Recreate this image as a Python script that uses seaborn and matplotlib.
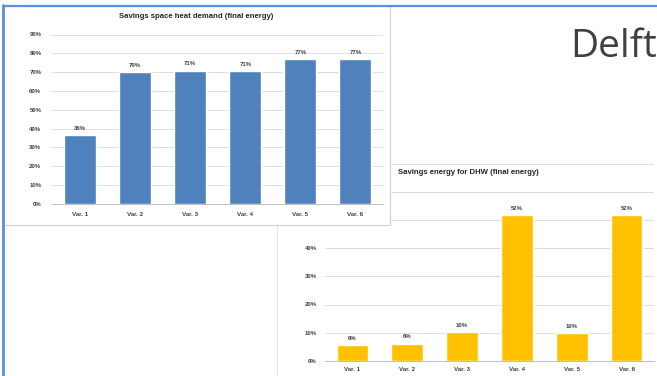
import matplotlib
matplotlib.use('Agg')
import matplotlib.pyplot as plt
import seaborn as sns
import pandas as pd
from matplotlib.patches import Rectangle
from matplotlib.lines import Line2D
from matplotlib.ticker import FuncFormatter

# datos
variants = ['Var. 1', 'Var. 2', 'Var. 3', 'Var. 4', 'Var. 5', 'Var. 6']
space_heat = [36.4, 70.2, 70.8, 70.7, 76.9, 76.9]
space_heat_labels = ['36%', '70%', '71%', '71%', '77%', '77%']
dhw = [5.7, 6.1, 10.1, 51.8, 9.9, 51.8]
dhw_labels = ['6%', '6%', '10%', '52%', '10%', '52%']

sns.set_theme(style='white')
plt.rcParams['font.family'] = ['Liberation Sans', 'DejaVu Sans']

W, H = 657, 376
fig = plt.figure(figsize=(6.57, 3.76), dpi=100)


def box(x0, y0, x1, y1):
    # pixeles (origen arriba a la izquierda) -> fraccion de figura
    return [x0 / W, 1 - y1 / H, (x1 - x0) / W, (y1 - y0) / H]


txt_col = '#404040'
grid_col = '#d9d9d9'
pct = FuncFormatter(lambda v, p: '%d%%' % round(v))


def style_axes(ax, top, pad_y, pad_x):
    ax.set_ylim(0, top)
    ax.set_yticks(range(0, top + 1, 10))
    ax.yaxis.set_major_formatter(pct)
    ax.grid(axis='y', color=grid_col, linewidth=0.6)
    ax.set_axisbelow(True)
    for s in ['top', 'right', 'left']:
        ax.spines[s].set_visible(False)
    ax.spines['bottom'].set_color('#bfbfbf')
    ax.spines['bottom'].set_linewidth(0.7)
    ax.tick_params(axis='y', length=0, pad=pad_y, labelsize=4.3, labelcolor=txt_col)
    ax.tick_params(axis='x', length=0, pad=pad_x, labelsize=4.5, labelcolor=txt_col)
    for t in ax.get_xticklabels() + ax.get_yticklabels():
        t.set_fontweight('bold')
    ax.set_xlabel('')
    ax.set_ylabel('')
    ax.patch.set_alpha(0)


# segundo grafico (detras)
fig.add_artist(Line2D([277 / W, 277 / W], [0, 1 - 225 / H], color='#e6e6e6', linewidth=0.8, zorder=0.5))
ax2 = fig.add_axes(box(325, 164, 654, 360.7), zorder=1)
df2 = pd.DataFrame({'var': variants, 'val': dhw})
sns.barplot(data=df2, x='var', y='val', color='#FFC000', saturation=1, width=0.58, ax=ax2)
style_axes(ax2, 70, 6, 4.5)
ax2.bar_label(ax2.containers[0], labels=dhw_labels, padding=3, fontsize=4.3,
              fontweight='bold', color=txt_col)
fig.text(398 / W, 1 - 173 / H, 'Savings energy for DHW (final energy)', ha='left', va='center',
         fontsize=5.6, fontweight='bold', color='#262626')

# primer grafico (delante)
fig.patches.append(Rectangle((3 / W, 1 - 225 / H), 387 / W, 219 / H, transform=fig.transFigure,
                             facecolor='white', edgecolor='#d0d0d0', linewidth=0.8, zorder=2))
ax1 = fig.add_axes(box(52.4, 34.5, 383, 204), zorder=3)
df1 = pd.DataFrame({'var': variants, 'val': space_heat})
sns.barplot(data=df1, x='var', y='val', color='#4F81BD', saturation=1, width=0.58, ax=ax1)
style_axes(ax1, 90, 8, 5.5)
ax1.bar_label(ax1.containers[0], labels=space_heat_labels, padding=3, fontsize=4.3,
              fontweight='bold', color=txt_col)
fig.text(196 / W, 1 - 17 / H, 'Savings space heat demand (final energy)', ha='center', va='center',
         fontsize=5.6, fontweight='bold', color='#262626', zorder=4)

# marco azul de la diapositiva y titulo
blue = '#5B8EDC'
fig.add_artist(Line2D([3 / W, 3 / W], [0, 1 - 5 / H], color=blue, linewidth=2, zorder=5))
fig.add_artist(Line2D([3 / W, 1], [1 - 6 / H, 1 - 6 / H], color=blue, linewidth=1.6, zorder=5))
fig.text(570 / W, 1 - 57 / H, 'Delft', ha='left', va='baseline', fontsize=28,
         color='#404040', family=['Open Sans', 'DejaVu Sans'])

fig.savefig('out.png', dpi=100)
